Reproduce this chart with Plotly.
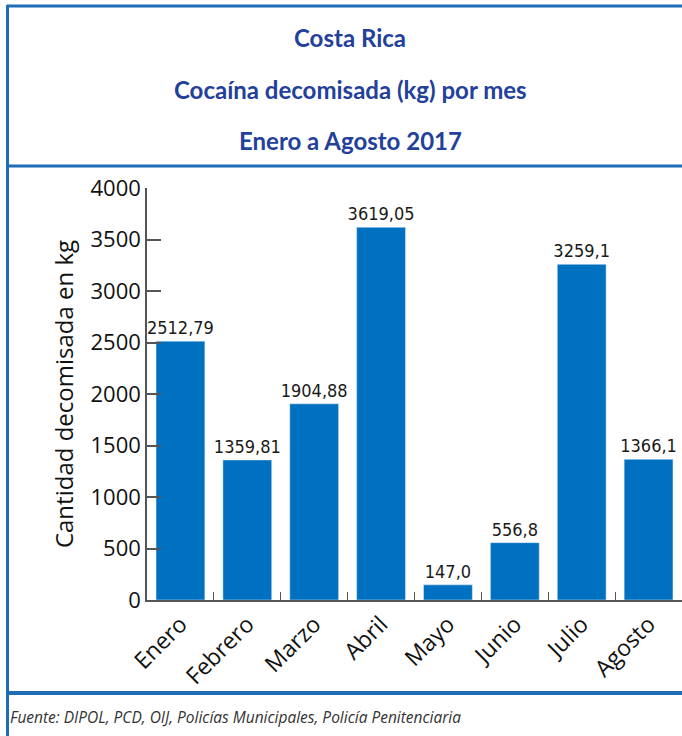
import plotly.graph_objects as go

months = ["Enero", "Febrero", "Marzo", "Abril", "Mayo", "Junio", "Julio", "Agosto"]
values = [2512.79, 1359.81, 1904.88, 3619.05, 147.0, 556.8, 3259.1, 1366.1]
labels = ["2512,79", "1359,81", "1904,88", "3619,05", "147,0", "556,8", "3259,1", "1366,1"]
y_ticks = [0, 500, 1000, 1500, 2000, 2500, 3000, 3500, 4000]

W, H = 682, 736
L, R, T, B = 147, 682, 188, 600
pw, ph = R - L, B - T

def px(x):
    return (x - L) / pw

def py(y):
    return (B - y) / ph

fig = go.Figure()
fig.add_trace(go.Bar(
    x=months, y=values, text=labels, textposition="outside",
    marker_color="#0070c0", width=0.73, cliponaxis=False, constraintext="none",
    textfont=dict(family="DejaVu Sans Condensed, Liberation Sans Narrow, Roboto, sans-serif", size=18, color="#1a1a1a"),
))

frame_color = "#1f6db4"
shapes = [
    dict(type="line", xref="paper", yref="paper", x0=px(7), x1=px(690), y0=py(6), y1=py(6), line=dict(color=frame_color, width=3)),
    dict(type="line", xref="paper", yref="paper", x0=px(7.5), x1=px(7.5), y0=py(5), y1=py(740), line=dict(color=frame_color, width=3)),
    dict(type="line", xref="paper", yref="paper", x0=px(7), x1=px(690), y0=py(166), y1=py(166), line=dict(color=frame_color, width=3)),
    dict(type="line", xref="paper", yref="paper", x0=px(7), x1=px(690), y0=py(693), y1=py(693), line=dict(color=frame_color, width=4)),
]

title_font = dict(family="Lato, Open Sans, sans-serif", size=24, color="#23409a")
annotations = []
for txt, yy in [("<b>Costa Rica</b>", 37), ("<b>Cocaína decomisada (kg) por mes</b>", 89), ("<b>Enero a Agosto 2017</b>", 141)]:
    annotations.append(dict(text=txt, xref="paper", yref="paper", x=px(350), y=py(yy), showarrow=False,
                            xanchor="center", yanchor="middle", font=title_font))
annotations.append(dict(text="<i>Fuente: DIPOL, PCD, OIJ, Policías Municipales, Policía Penitenciaria</i>",
                        xref="paper", yref="paper", x=px(8), y=py(717), showarrow=False,
                        xanchor="left", yanchor="middle",
                        font=dict(family="Open Sans, sans-serif", size=15.5, color="#333333")))

fig.update_layout(
    width=W, height=H,
    margin=dict(l=L, r=W - R, t=T, b=H - B, pad=0),
    paper_bgcolor="white", plot_bgcolor="white",
    showlegend=False, bargap=0.27,
    shapes=shapes, annotations=annotations,
    font=dict(family="Open Sans, sans-serif", color="#111111"),
)
fig.update_yaxes(
    range=[0, 4000], tickvals=y_ticks, showgrid=False, zeroline=False,
    showline=True, linecolor="#555555", linewidth=1.5,
    ticks="inside", ticklen=14, tickcolor="#555555", tickwidth=1.5,
    tickfont=dict(family="Open Sans, sans-serif", size=22, color="#111111"),
    title=dict(text="Cantidad decomisada en kg", font=dict(family="Open Sans, sans-serif", size=24, color="#111111"), standoff=10),
)
fig.update_xaxes(
    showgrid=False, showline=True, linecolor="#555555", linewidth=1.5,
    ticks="inside", tickson="boundaries", ticklen=8, tickcolor="#555555",
    tickangle=-45,
    tickfont=dict(family="Open Sans, sans-serif", size=23, color="#111111"),
)

fig.write_html("out.html", config={"displayModeBar": False},
               post_script="document.body.style.margin='0';document.body.style.overflow='hidden';")
